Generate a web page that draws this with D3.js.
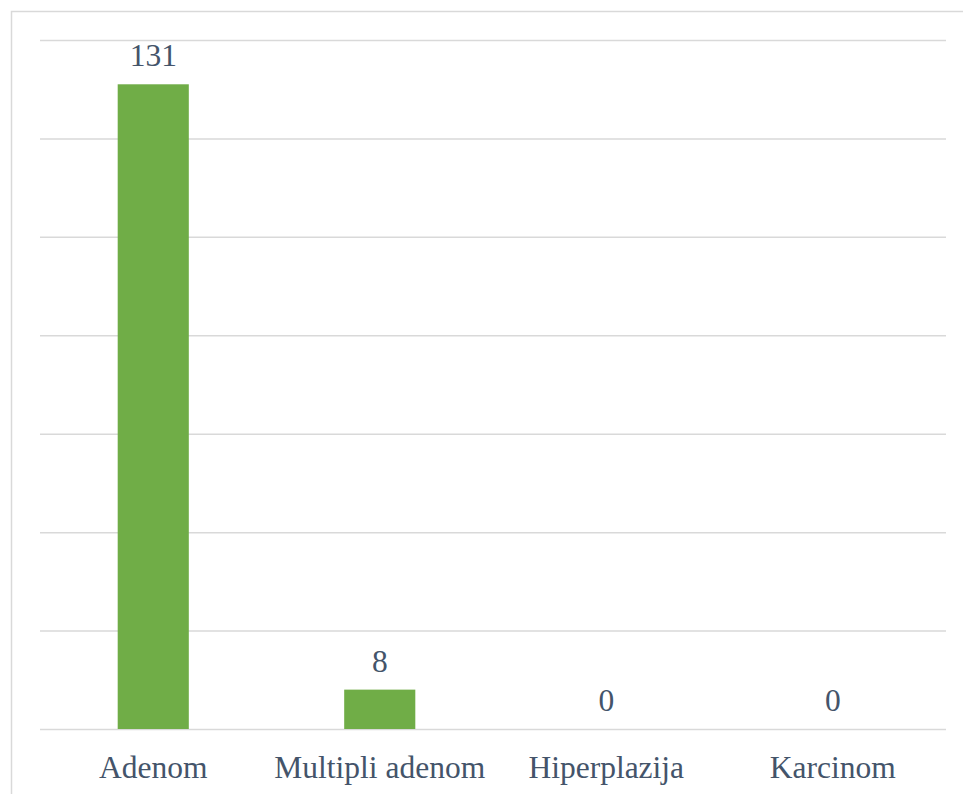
<!DOCTYPE html>
<html>
<head>
<meta charset="utf-8">
<script src="https://cdn.jsdelivr.net/npm/d3@7"></script>
<style>
  body { margin: 0; background: #fff; }
</style>
</head>
<body>
<div id="chart"></div>
<script>
// data
const categories = ["Adenom", "Multipli adenom", "Hiperplazija", "Karcinom"];
const values = [131, 8, 0, 0];
const gridTicks = [0, 20, 40, 60, 80, 100, 120, 140];

const width = 963;
const height = 794;
const margin = { top: 40, right: 17, bottom: 65, left: 40 };
const labelFont = '"Liberation Serif"';

const svg = d3.select("#chart")
    .append("svg")
    .attr("width", width)
    .attr("height", height);

// chart frame (runs off the right and bottom of the picture)
svg.append("rect")
    .attr("x", 11.5)
    .attr("y", 11.5)
    .attr("width", width + 20)
    .attr("height", height + 20)
    .attr("fill", "none")
    .attr("stroke", "#d9d9d9")
    .attr("stroke-width", 1.5);

const x = d3.scaleBand()
    .domain(categories)
    .range([margin.left, width - margin.right])
    .paddingInner(0.686)
    .paddingOuter(0.343);

const y = d3.scaleLinear()
    .domain([0, 140])
    .range([height - margin.bottom, margin.top]);

// grid lines
svg.append("g")
    .attr("transform", `translate(${margin.left},0)`)
    .call(d3.axisLeft(y)
        .tickValues(gridTicks)
        .tickSize(-(width - margin.left - margin.right))
        .tickFormat(""))
    .call(g => g.select(".domain").remove())
    .call(g => g.selectAll(".tick line")
        .attr("stroke", "#d9d9d9")
        .attr("stroke-width", 1.5));

// bars
svg.append("g")
    .selectAll("rect")
    .data(values)
    .join("rect")
    .attr("x", (d, i) => x(categories[i]))
    .attr("y", d => y(d))
    .attr("width", x.bandwidth())
    .attr("height", d => y(0) - y(d))
    .attr("fill", "#70ad47");

// value labels
svg.append("g")
    .selectAll("text")
    .data(values)
    .join("text")
    .attr("x", (d, i) => x(categories[i]) + x.bandwidth() / 2)
    .attr("y", d => y(d) - 18)
    .attr("text-anchor", "middle")
    .style("font-family", labelFont)
    .style("font-size", "31.5px")
    .attr("fill", "#44546a")
    .text(d => d);

// category labels
svg.append("g")
    .selectAll("text")
    .data(categories)
    .join("text")
    .attr("x", d => x(d) + x.bandwidth() / 2)
    .attr("y", y(0) + 49)
    .attr("text-anchor", "middle")
    .style("font-family", labelFont)
    .style("font-size", "31.5px")
    .attr("fill", "#44546a")
    .text(d => d);
</script>
</body>
</html>
